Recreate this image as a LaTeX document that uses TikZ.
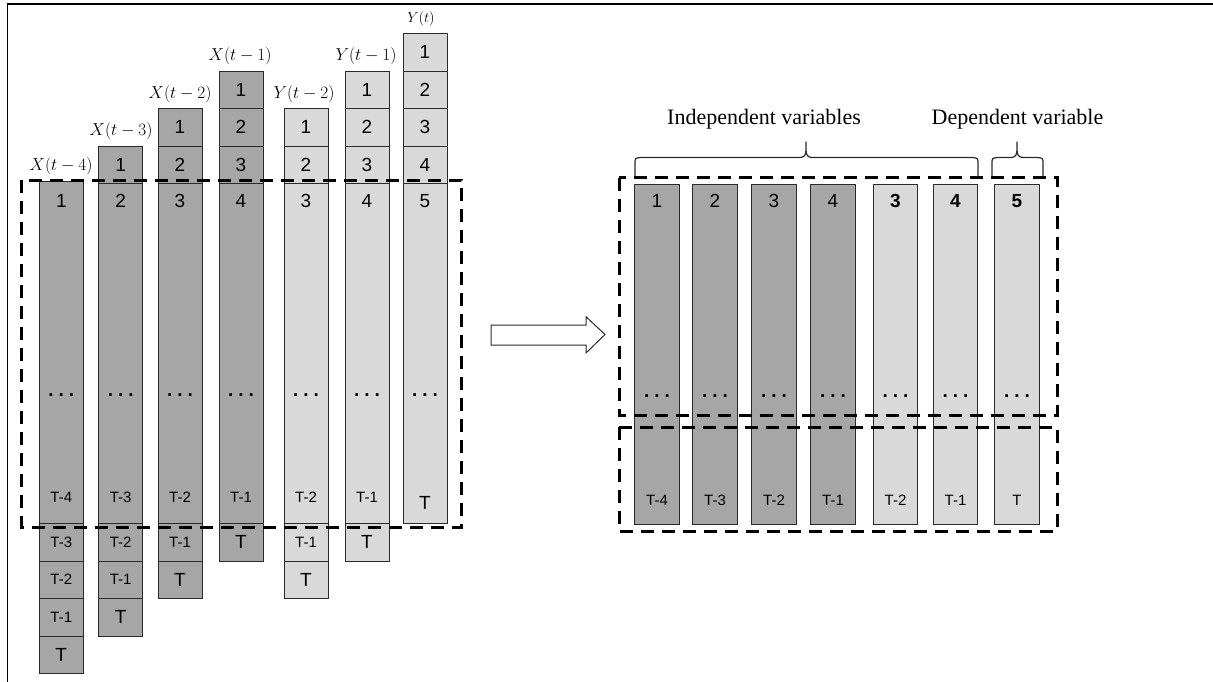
\documentclass[tikz,border=0pt]{standalone}
\usepackage{fontspec}
\setmainfont{Liberation Serif}
\newfontfamily\arialf{Liberation Sans}
\definecolor{darkcell}{HTML}{A6A6A6}
\definecolor{lightcell}{HTML}{D9D9D9}
\definecolor{edge}{HTML}{2A2A2A}
\newcommand{\threedots}{.\hspace{5pt}.\hspace{5pt}.}
\begin{document}
\begin{tikzpicture}[x=1pt,y=-1pt,
  cellbase/.style={rectangle,draw=edge,line width=0.8pt,minimum width=44pt,inner sep=0pt,outer sep=0pt},
  dk/.style={cellbase,fill=darkcell,minimum height=37.5pt},
  lt/.style={cellbase,fill=lightcell,minimum height=37.5pt},
  dklong/.style={cellbase,fill=darkcell},
  ltlong/.style={cellbase,fill=lightcell},
  big/.style={font=\arialf\fontsize{19}{19}\selectfont,text=black},
  small/.style={font=\arialf\fontsize{15}{15}\selectfont,text=black},
  dotsty/.style={font=\arialf\bfseries\fontsize{19}{19}\selectfont,text=black},
  mlab/.style={font=\fontsize{17}{17}\selectfont,inner sep=0pt},
  dbox/.style={draw=black,line width=3pt,dash pattern=on 13pt off 8pt},
  brace/.style={draw=edge,line width=1.2pt,line join=round},
  caption/.style={font=\fontsize{22}{22}\selectfont,anchor=base,inner sep=0pt}
]
\useasboundingbox (0,0) rectangle (1213,682);
% frame
\draw[line width=2.5pt] (6.5,4) -- (1213,4);
\draw[line width=1.5pt] (7.5,4) -- (7.5,682);

% ---------------- left columns ----------------
% column 1: X(t-4)
\node[dklong,minimum height=342.5pt] (a1L) at (61.3,352.25) {};
\node[big] (a1n) at (61.3,201) {1};
\node[dotsty] (a1d) at (61.3,395) {\threedots};
\node[small] (a1t) at (61.3,497) {T-4};
\node[dk] (a1b1) at (61.3,542.25) {}; \node[small] at (a1b1) {T-3};
\node[dk] (a1b2) at (61.3,579.75) {}; \node[small] at (a1b2) {T-2};
\node[dk] (a1b3) at (61.3,617.25) {}; \node[small] at (a1b3) {T-1};
\node[dk] (a1b4) at (61.3,654.75) {}; \node[big] at (a1b4) {T};
\node[mlab] (a1lab) at (61,166) {$X(t-4)$};

% column 2: X(t-3)
\node[dklong,minimum height=340pt] (a2L) at (120.7,353.5) {};
\node[dk] (a2u1) at (120.7,164.75) {}; \node[big] at (a2u1) {1};
\node[big] (a2n) at (120.7,201) {2};
\node[dotsty] (a2d) at (120.7,395) {\threedots};
\node[small] (a2t) at (120.7,497) {T-3};
\node[dk] (a2b1) at (120.7,542.25) {}; \node[small] at (a2b1) {T-2};
\node[dk] (a2b2) at (120.7,579.75) {}; \node[small] at (a2b2) {T-1};
\node[dk] (a2b3) at (120.7,617.25) {}; \node[big] at (a2b3) {T};
\node[mlab] (a2lab) at (121,131) {$X(t-3)$};

% column 3: X(t-2)
\node[dklong,minimum height=340pt] (a3L) at (180,353.5) {};
\node[dk] (a3u1) at (180,127.25) {}; \node[big] at (a3u1) {1};
\node[dk] (a3u2) at (180,164.75) {}; \node[big] at (a3u2) {2};
\node[big] (a3n) at (180,201) {3};
\node[dotsty] (a3d) at (180,395) {\threedots};
\node[small] (a3t) at (180,497) {T-2};
\node[dk] (a3b1) at (180,542.25) {}; \node[small] at (a3b1) {T-1};
\node[dk] (a3b2) at (180,579.75) {}; \node[big] at (a3b2) {T};
\node[mlab] (a3lab) at (180,94) {$X(t-2)$};

% column 4: X(t-1)
\node[dklong,minimum height=340pt] (a4L) at (241,353.5) {};
\node[dk] (a4u1) at (241,89.75) {}; \node[big] at (a4u1) {1};
\node[dk] (a4u2) at (241,127.25) {}; \node[big] at (a4u2) {2};
\node[dk] (a4u3) at (241,164.75) {}; \node[big] at (a4u3) {3};
\node[big] (a4n) at (241,201) {4};
\node[dotsty] (a4d) at (241,395) {\threedots};
\node[small] (a4t) at (241,497) {T-1};
\node[dk] (a4b1) at (241,542.25) {}; \node[big] at (a4b1) {T};
\node[mlab] (a4lab) at (240,56) {$X(t-1)$};

% column 5: Y(t-2)
\node[ltlong,minimum height=340pt] (a5L) at (306,353.5) {};
\node[lt] (a5u1) at (306,127.25) {}; \node[big] at (a5u1) {1};
\node[lt] (a5u2) at (306,164.75) {}; \node[big] at (a5u2) {2};
\node[big] (a5n) at (306,201) {3};
\node[dotsty] (a5d) at (306,395) {\threedots};
\node[small] (a5t) at (306,497) {T-2};
\node[lt] (a5b1) at (306,542.25) {}; \node[small] at (a5b1) {T-1};
\node[lt] (a5b2) at (306,579.75) {}; \node[big] at (a5b2) {T};
\node[mlab] (a5lab) at (304,94) {$Y(t-2)$};

% column 6: Y(t-1)
\node[ltlong,minimum height=340pt] (a6L) at (367,353.5) {};
\node[lt] (a6u1) at (367,89.75) {}; \node[big] at (a6u1) {1};
\node[lt] (a6u2) at (367,127.25) {}; \node[big] at (a6u2) {2};
\node[lt] (a6u3) at (367,164.75) {}; \node[big] at (a6u3) {3};
\node[big] (a6n) at (367,201) {4};
\node[dotsty] (a6d) at (367,395) {\threedots};
\node[small] (a6t) at (367,497) {T-1};
\node[lt] (a6b1) at (367,542.25) {}; \node[big] at (a6b1) {T};
\node[mlab] (a6lab) at (366,56) {$Y(t-1)$};

% column 7: Y(t)
\node[ltlong,minimum height=340pt] (a7L) at (425,353.5) {};
\node[lt] (a7u1) at (425,52.25) {}; \node[big] at (a7u1) {1};
\node[lt] (a7u2) at (425,89.75) {}; \node[big] at (a7u2) {2};
\node[lt] (a7u3) at (425,127.25) {}; \node[big] at (a7u3) {3};
\node[lt] (a7u4) at (425,164.75) {}; \node[big] at (a7u4) {4};
\node[big] (a7n) at (425,201) {5};
\node[dotsty] (a7d) at (425,395) {\threedots};
\node[big] (a7t) at (425,503) {T};
\node[mlab,font=\fontsize{14}{14}\selectfont] (a7lab) at (421,19) {$Y(t)$};

% left dashed box
\draw[dbox] (21.7,180) rectangle (461.7,527);

% ---------------- arrow ----------------
\draw[line width=1pt,draw=edge,fill=white,line join=miter]
  (491,325) -- (586,325) -- (586,316.7) -- (605,334.5) -- (586,353) -- (586,345) -- (491,345) -- cycle;

% ---------------- right columns ----------------
\foreach \nm/\cx/\sty/\num/\tl in {b1/657/dklong/1/T-4, b2/715/dklong/2/T-3, b3/774/dklong/3/T-2, b4/833/dklong/4/T-1}{
  \node[\sty,minimum height=340pt,minimum width=44.3pt] (\nm L) at (\cx,354) {};
  \node[big] (\nm n) at (\cx,201) {\num};
  \node[dotsty] (\nm d) at (\cx,396) {\threedots};
  \node[small] (\nm t) at (\cx,500) {\tl};
}
\foreach \nm/\cx/\sty/\num/\tl in {b5/895.5/ltlong/3/T-2, b6/955.5/ltlong/4/T-1, b7/1017/ltlong/5/T}{
  \node[\sty,minimum height=340pt,minimum width=44.3pt] (\nm L) at (\cx,354) {};
  \node[big,font=\arialf\bfseries\fontsize{19}{19}\selectfont] (\nm n) at (\cx,201) {\num};
  \node[dotsty] (\nm d) at (\cx,396) {\threedots};
  \node[small] (\nm t) at (\cx,500) {\tl};
}

% right dashed boxes
\draw[dbox] (619,177.7) rectangle (1057,415);
\draw[dbox] (619,427) rectangle (1057,531);

% braces
\draw[brace] (635,176) -- (635,164) .. controls (635,158) .. (641,157.5) -- (800,157.5)
  .. controls (805,157.5) and (806,154) .. (806,149) -- (806,142)
  -- (806,149) .. controls (806,154) and (807,157.5) .. (812,157.5) -- (972,157.5)
  .. controls (978,158) .. (978,164) -- (978,176);
\draw[brace] (992,176) -- (992,164) .. controls (992,158) .. (998,157.5) -- (1011,157.5)
  .. controls (1016,157.5) and (1017,154) .. (1017,149) -- (1017,142)
  -- (1017,149) .. controls (1017,154) and (1018,157.5) .. (1023,157.5) -- (1037,157.5)
  .. controls (1043,158) .. (1043,164) -- (1043,176);

\node[caption] (indep) at (764,125) {Independent variables};
\node[caption] (dep) at (1017.5,125) {Dependent variable};
\end{tikzpicture}
\end{document}
